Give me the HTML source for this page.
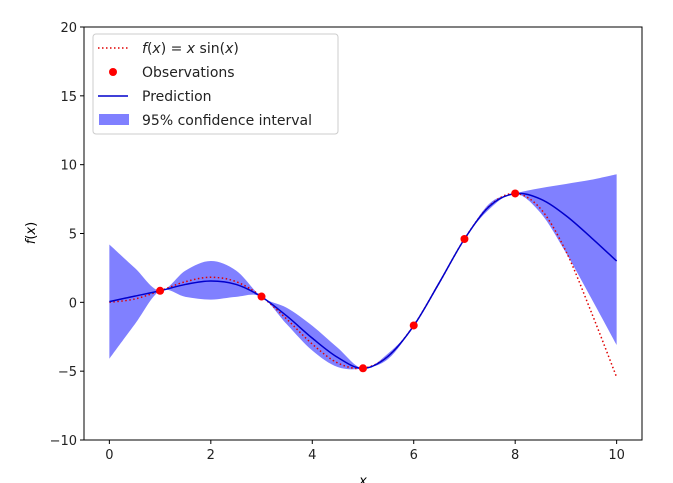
<!DOCTYPE html>
<html><head><meta charset="utf-8"><style>
html,body{margin:0;padding:0;background:#fff;}
svg{display:block;font-family:"DejaVu Sans","Liberation Sans",sans-serif;}
</style></head><body>
<svg id="chart" width="673" height="483">
</svg>
<script>
const xs = [0,0.5,1,1.5,2,2.5,3,3.5,4,4.5,5,5.5,6,6.5,7,7.5,8,8.5,9,9.5,10];
const trueVals = [0,0.24,0.84,1.50,1.82,1.50,0.42,-1.23,-3.03,-4.40,-4.79,-3.89,-1.68,1.40,4.60,7.03,7.91,6.80,3.71,-0.71,-5.44];
const meanVals = [0.05,0.45,0.84,1.3,1.55,1.3,0.4,-1.0,-2.6,-4.0,-4.8,-3.9,-1.7,1.4,4.6,7.0,7.9,7.5,6.3,4.7,3.0];
const upperVals = [4.2,2.5,0.84,2.3,3.0,2.3,0.4,-0.4,-1.7,-3.3,-4.8,-3.7,-1.7,1.5,4.6,7.2,7.9,8.3,8.6,8.9,9.3];
const lowerVals = [-4.1,-1.6,0.84,0.4,0.2,0.4,0.4,-1.6,-3.5,-4.7,-4.8,-4.1,-1.7,1.3,4.6,6.8,7.9,6.5,3.6,0.3,-3.1];
const obsX = [1,3,5,6,7,8];
const obsY = [0.84,0.42,-4.79,-1.68,4.60,7.91];
const xTicks = [0,2,4,6,8,10];
const yTicks = [-10,-5,0,5,10,15,20];

const L=84,R=642,T=27,B=440;
const X=v=>L+(v+0.5)/11*(R-L);
const Y=v=>B-(v+10)/30*(B-T);
const NS='http://www.w3.org/2000/svg';
const svg=document.getElementById('chart');
function mk(tag,attrs,parent){const e=document.createElementNS(NS,tag);for(const k in attrs)e.setAttribute(k,attrs[k]);(parent||svg).appendChild(e);return e;}
function smooth(px,py){
  let d='M'+px[0].toFixed(2)+','+py[0].toFixed(2);
  for(let i=0;i<px.length-1;i++){
    const x0=px[Math.max(i-1,0)],y0=py[Math.max(i-1,0)],x1=px[i],y1=py[i],x2=px[i+1],y2=py[i+1],x3=px[Math.min(i+2,px.length-1)],y3=py[Math.min(i+2,px.length-1)];
    d+=' C'+(x1+(x2-x0)/6).toFixed(2)+','+(y1+(y2-y0)/6).toFixed(2)+' '+(x2-(x3-x1)/6).toFixed(2)+','+(y2-(y3-y1)/6).toFixed(2)+' '+x2.toFixed(2)+','+y2.toFixed(2);
  }
  return d;
}
const cx=xs.map(X);
const up=smooth(cx,upperVals.map(Y));
const rx=cx.slice().reverse(), ry=lowerVals.map(Y).reverse();
const lo=smooth(rx,ry).replace(/^M/,'L');
const band=mk('path',{d:up+' '+lo+' Z',fill:'#8080ff',stroke:'none'});


const tl=mk('path',{d:smooth(cx,trueVals.map(Y)),fill:'none',stroke:'#e00000','stroke-width':1.5,'stroke-dasharray':'1.5,2.5'});


const ml=mk('path',{d:smooth(cx,meanVals.map(Y)),fill:'none',stroke:'#0000cc','stroke-width':1.5});


obsX.forEach((v,i)=>{
  const c=mk('circle',{cx:X(v),cy:Y(obsY[i]),r:4,fill:'#ff0000'});
  
  
});
const fr=mk('rect',{x:L,y:T,width:R-L,height:B-T,fill:'none',stroke:'#000','stroke-width':1});


xTicks.forEach(v=>{
  mk('line',{x1:X(v),x2:X(v),y1:B,y2:B+4,stroke:'#000'});
  const t=mk('text',{x:X(v),y:B+19,'text-anchor':'middle','font-size':13,fill:'#222'});
  t.textContent=v;
  
  
});
yTicks.forEach(v=>{
  mk('line',{x1:L-4,x2:L,y1:Y(v),y2:Y(v),stroke:'#000'});
  const t=mk('text',{x:L-7,y:Y(v)+5,'text-anchor':'end','font-size':13,fill:'#222'});
  t.textContent=v<0?'\u2212'+(-v):v;
  
  
});
const xl=mk('text',{x:363,y:485,'text-anchor':'middle','font-size':13,'font-style':'italic'});
xl.textContent='x';


const yl=mk('text',{x:0,y:0,'text-anchor':'middle','font-size':13,transform:'translate(35,233) rotate(-90)'});
yl.innerHTML='<tspan font-style="italic">f</tspan>(<tspan font-style="italic">x</tspan>)';


const lg=mk('g',{});


mk('rect',{x:93,y:34,width:245,height:100,rx:3,fill:'#fff','fill-opacity':0.85,stroke:'#ccc'},lg);
mk('line',{x1:98,x2:128,y1:48,y2:48,stroke:'#e00000','stroke-width':1.5,'stroke-dasharray':'1.5,2.5'},lg);
mk('circle',{cx:113,cy:72,r:4,fill:'#ff0000'},lg);
mk('line',{x1:98,x2:128,y1:96,y2:96,stroke:'#0000cc','stroke-width':1.5},lg);
mk('rect',{x:99,y:114,width:30,height:11,fill:'#8080ff'},lg);
const labels=['f(x) = x sin(x)','Observations','Prediction','95% confidence interval'];
labels.forEach((s,i)=>{
  const t=mk('text',{x:142,y:53+i*24,'font-size':14,fill:'#222'},lg);
  if(i===0){t.innerHTML='<tspan font-style="italic">f</tspan>(<tspan font-style="italic">x</tspan>) = <tspan font-style="italic">x</tspan> sin(<tspan font-style="italic">x</tspan>)';}
  else t.textContent=s;
  
  
});
</script>
</body></html>
